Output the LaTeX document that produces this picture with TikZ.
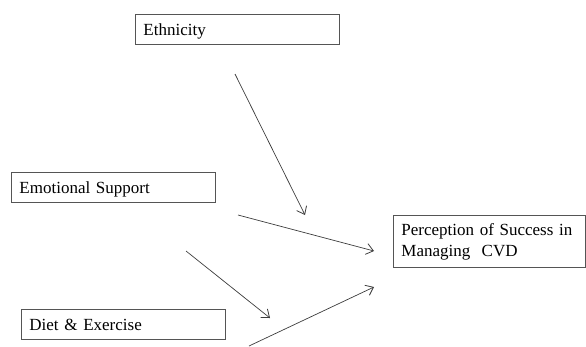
\documentclass[tikz,border=0pt]{standalone}
\usepackage{fontspec}
\setmainfont{Liberation Serif}
\usepackage{tikz}
\usetikzlibrary{arrows.meta,positioning,calc}
\definecolor{boxline}{RGB}{85,85,85}
\definecolor{arrowline}{RGB}{60,60,60}

\begin{document}
\begin{tikzpicture}[
    x=1pt, y=-1pt,
    plain/.style={rectangle, draw=boxline, line width=0.9pt, anchor=north west,
                  inner xsep=8pt, align=left, font=\fontsize{17}{21}\selectfont},
    box/.style={plain, minimum height=30pt, text width=188pt, text depth=0pt},
    outcome/.style={plain, minimum height=52pt, text width=176pt},
    link/.style={draw=arrowline, line width=0.7pt,
                 -{Straight Barb[length=7pt,width=11pt,line width=0.8pt]}}
]
    \useasboundingbox (0,0) rectangle (586,346);

    % Predictors
    \node[box] (ethnicity) at (135,14) {Ethnicity};
    \node[box] (emotional) at (11,172) {Emotional Support};
    \node[box] (diet) at (21,309) {Diet \& Exercise};

    % Outcome
    \node[outcome] (success) at (393,215) {Perception of Success in\\Managing~ CVD};

    % Arrow ends
    \coordinate (a1s) at (235,74);
    \coordinate (a1e) at (305,215);
    \coordinate (a2s) at (238,215);
    \coordinate (a2e) at (374,251);
    \coordinate (a3s) at (186,251);
    \coordinate (a3e) at (270,318);
    \coordinate (a4s) at (249,346);
    \coordinate (a4e) at (374,287);

    % Arrows
    \draw[link] (a1s) -- (a1e);
    \draw[link] (a2s) -- (a2e);
    \draw[link] (a3s) -- (a3e);
    \draw[link] (a4s) -- (a4e);
\end{tikzpicture}
\end{document}
